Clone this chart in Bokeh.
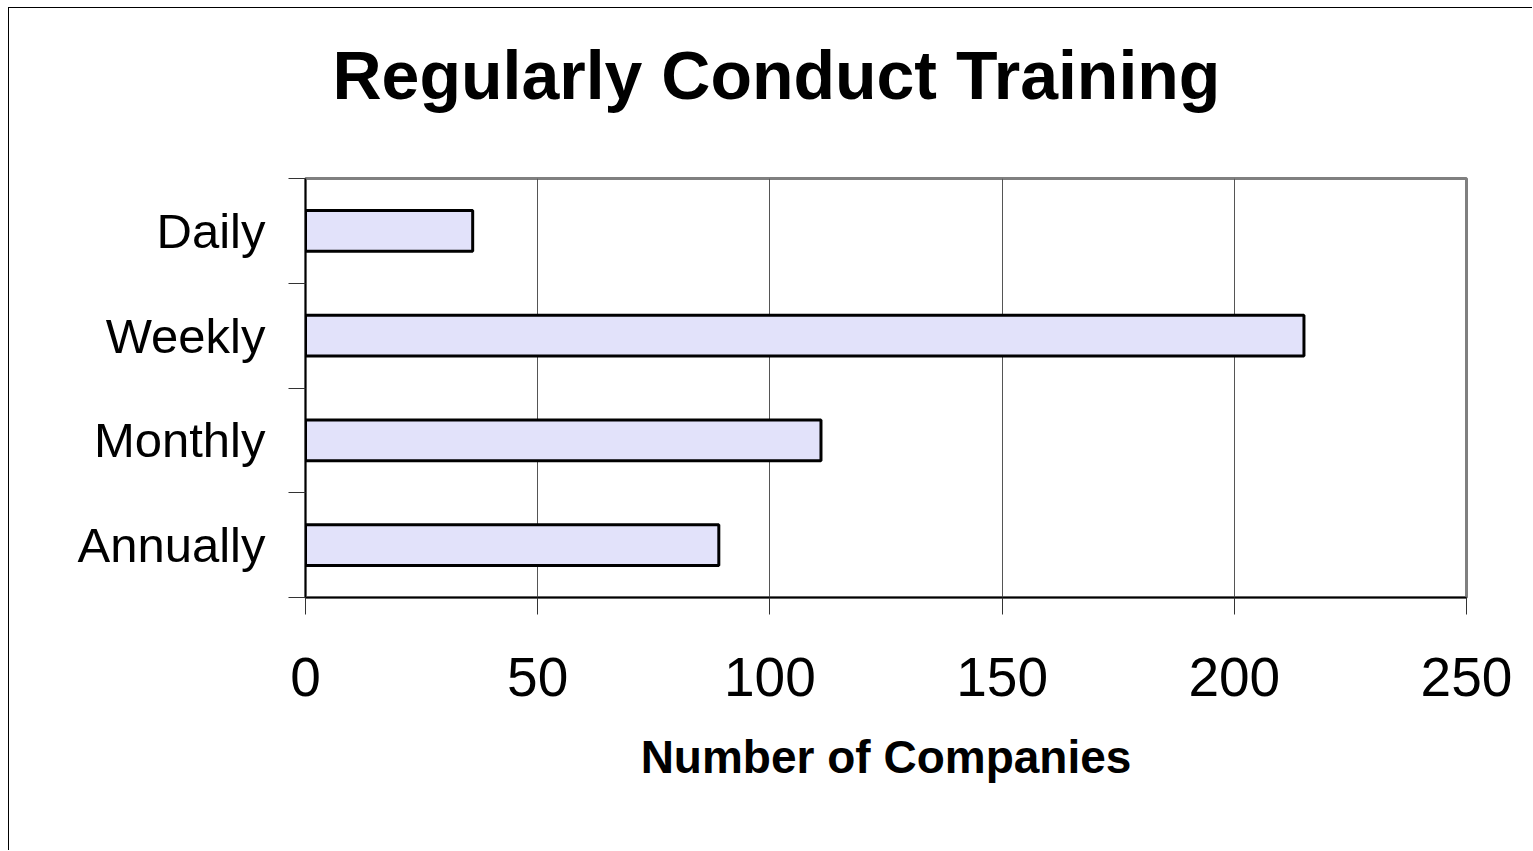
from bokeh.plotting import figure
from bokeh.models import Range1d, FixedTicker, Title
from bokeh.embed import file_html
from bokeh.resources import INLINE

categories = ["Daily", "Weekly", "Monthly", "Annually"]
companies = [36, 215, 111, 89]
x_ticks = [0, 50, 100, 150, 200, 250]

n = len(categories)
ypos = [n - i - 0.5 for i in range(n)]

p = figure(width=1524, height=843, output_backend="svg", toolbar_location=None,
           x_range=Range1d(0, 250), y_range=Range1d(0, n),
           min_border_left=296, min_border_right=67, min_border_top=170, min_border_bottom=254,
           styles={"margin-left": "8px", "margin-top": "7px",
                   "border-left": "1px solid black", "border-top": "1px solid black"})

p.hbar(y=ypos, right=companies, left=0, height=0.39, fill_color="#E2E2FA",
       line_color="black", line_width=3)

# spacer between frame and title (first added sits nearest the frame)
spacer = Title(text=" ", text_font_size="10px", standoff=53)
p.add_layout(spacer, "above")

t = Title(text="Regularly Conduct Training", align="left", offset=27,
          text_font="Liberation Sans", text_font_size="68px", text_font_style="bold",
          text_color="black", standoff=0)
p.add_layout(t, "above")

p.outline_line_color = "#808080"
p.outline_line_width = 3
p.background_fill_color = "white"
p.border_fill_color = "white"

p.ygrid.grid_line_color = None
p.xgrid.grid_line_color = "#555555"
p.xgrid.grid_line_width = 1
p.xgrid.ticker = FixedTicker(ticks=x_ticks)

xa = p.xaxis[0]
xa.ticker = FixedTicker(ticks=x_ticks)
xa.axis_line_color = "black"
xa.axis_line_width = 1.5
xa.major_tick_in = 0
xa.major_tick_out = 17
xa.major_tick_line_color = "#333333"
xa.minor_tick_line_color = None
xa.major_label_text_font = "Liberation Sans"
xa.major_label_text_font_size = "55px"
xa.major_label_text_color = "black"
xa.major_label_standoff = 43
xa.axis_label = "Number of Companies"
xa.axis_label_text_font = "Liberation Sans"
xa.axis_label_text_font_size = "46px"
xa.axis_label_text_font_style = "bold"
xa.axis_label_text_color = "black"
xa.axis_label_standoff = 32

ya = p.yaxis[0]
ya.ticker = FixedTicker(ticks=ypos, minor_ticks=list(range(n + 1)))
ya.major_label_overrides = {y: c for y, c in zip(ypos, categories)}
ya.axis_line_color = "black"
ya.axis_line_width = 1.5
ya.major_tick_line_color = None
ya.major_tick_in = 0
ya.major_tick_out = 0
ya.minor_tick_line_color = "#333333"
ya.minor_tick_in = 0
ya.minor_tick_out = 17
ya.major_label_text_font = "Liberation Sans"
ya.major_label_text_font_size = "49px"
ya.major_label_text_color = "black"
ya.major_label_standoff = 23

open("out.html", "w").write(file_html(p, INLINE))
